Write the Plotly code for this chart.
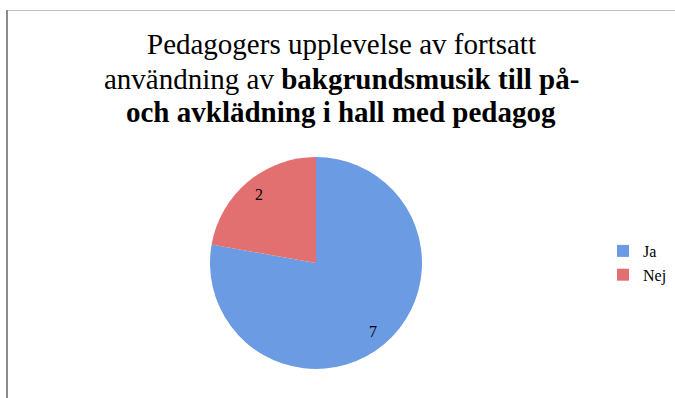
import math
import plotly.graph_objects as go

categories = ["Ja", "Nej"]
values = [7, 2]
colors = ["#6A9BE3", "#E27070"]
title_lines = [
    "Pedagogers upplevelse av fortsatt",
    "användning av <b>bakgrundsmusik till på-</b>",
    "<b>och avklädning i hall med pedagog</b>",
]

W, H = 675, 398
cx, cy, R = 316, 263, 106  # pie centre / radius in pixels

fig = go.Figure()
fig.add_trace(go.Pie(
    labels=categories,
    values=values,
    sort=False,
    direction="clockwise",
    rotation=0,
    marker=dict(colors=colors, line=dict(width=0)),
    textinfo="none",
    domain=dict(x=[(cx - R) / W, (cx + R) / W], y=[(H - cy - R) / H, (H - cy + R) / H]),
    hoverinfo="label+value",
))

annotations = []
# value labels, placed at slice mid-angles computed from the data
total = sum(values)
acc = 0
for v in values:
    mid = (acc + v / 2) / total * 2 * math.pi
    acc += v
    px = cx + 0.84 * R * math.sin(mid)
    py = cy - 0.84 * R * math.cos(mid)
    annotations.append(dict(
        x=px / W, y=(H - py) / H, xref="paper", yref="paper",
        text=str(v), showarrow=False, xanchor="center", yanchor="middle",
        font=dict(family="Liberation Serif", size=16, color="black"),
    ))

title_y = [44, 79, 112]
for line, yy in zip(title_lines, title_y):
    annotations.append(dict(
        x=341 / W, y=(H - yy) / H, xref="paper", yref="paper",
        text=line, showarrow=False, xanchor="center", yanchor="middle",
        font=dict(family="Liberation Serif", size=29, color="black"),
    ))

fig.update_layout(
    width=W, height=H,
    margin=dict(l=0, r=0, t=0, b=0, autoexpand=False),
    paper_bgcolor="white",
    plot_bgcolor="white",
    annotations=annotations,
    legend=dict(
        x=603 / W, y=(H - 234) / H, xanchor="left", yanchor="top",
        font=dict(family="Liberation Serif", size=16, color="black"),
        itemwidth=30,
        bgcolor="rgba(0,0,0,0)",
    ),
    shapes=[
        dict(type="line", xref="paper", yref="paper",
             x0=6 / W, x1=1, y0=(H - 10.5) / H, y1=(H - 10.5) / H,
             line=dict(color="#BFBFBF", width=1)),
        dict(type="line", xref="paper", yref="paper",
             x0=7 / W, x1=7 / W, y0=0, y1=(H - 10) / H,
             line=dict(color="#8C8C8C", width=2)),
    ],
)

fig.write_html("out.html")
